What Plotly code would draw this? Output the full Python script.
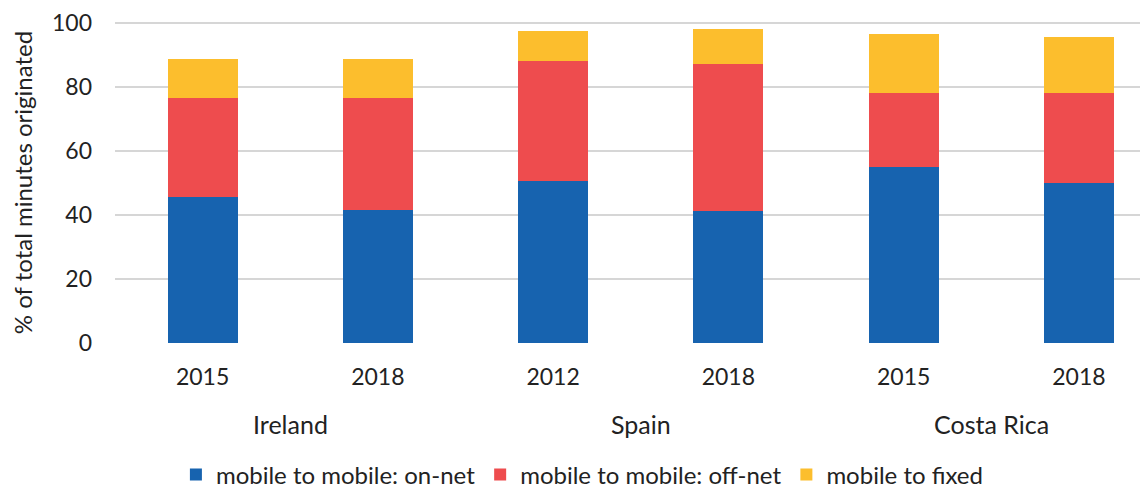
import plotly.graph_objects as go

# one bar per country/year, labelled only with the year on the axis
bar_ids = ["Ireland 2015", "Ireland 2018", "Spain 2012", "Spain 2018",
           "Costa Rica 2015", "Costa Rica 2018"]
years = ["2015", "2018", "2012", "2018", "2015", "2018"]
countries = ["Ireland", "Spain", "Costa Rica"]

on_net = [45.7, 41.7, 50.7, 41.2, 54.9, 50.2]
off_net = [30.8, 34.8, 37.4, 46.2, 23.4, 27.9]
fixed = [12.2, 12.2, 9.6, 10.9, 18.5, 17.5]

series = [
    ("mobile to mobile: on-net", on_net, "#1763AF"),
    ("mobile to mobile: off-net", off_net, "#EE4C4E"),
    ("mobile to fixed", fixed, "#FCBE2D"),
]

fig = go.Figure()
for name, vals, col in series:
    fig.add_trace(go.Bar(x=bar_ids, y=vals, name=name,
                         marker=dict(color=col, line=dict(width=0))))

# country label centred under each pair of bars
for i, c in enumerate(countries):
    fig.add_annotation(x=2 * i + 0.5, xref="x", y=-0.253, yref="paper",
                       text=c, showarrow=False, yanchor="middle",
                       font=dict(size=25, color="#222222"))

fig.update_layout(
    barmode="stack",
    bargap=0.6,
    width=1148, height=492,
    margin=dict(l=107, r=0, t=14, b=157),
    paper_bgcolor="white", plot_bgcolor="white",
    font=dict(family="Lato", size=23, color="#222222"),
    legend=dict(orientation="h", x=0.449, xanchor="center", y=-0.411, yanchor="middle",
                font=dict(size=24), itemwidth=30, traceorder="normal"),
)
fig.update_yaxes(range=[0, 100.4], tickvals=[0, 20, 40, 60, 80, 100],
                 showgrid=True, gridcolor="#d6d6d6", gridwidth=2,
                 zeroline=False, ticks="", ticklabelstandoff=22,
                 title=dict(text="% of total minutes originated", font=dict(size=24), standoff=20))
fig.update_xaxes(tickvals=bar_ids, ticktext=years, ticks="", showline=False,
                 range=[-0.5, 5.44], ticklabelstandoff=18)

fig.write_html("out.html")
